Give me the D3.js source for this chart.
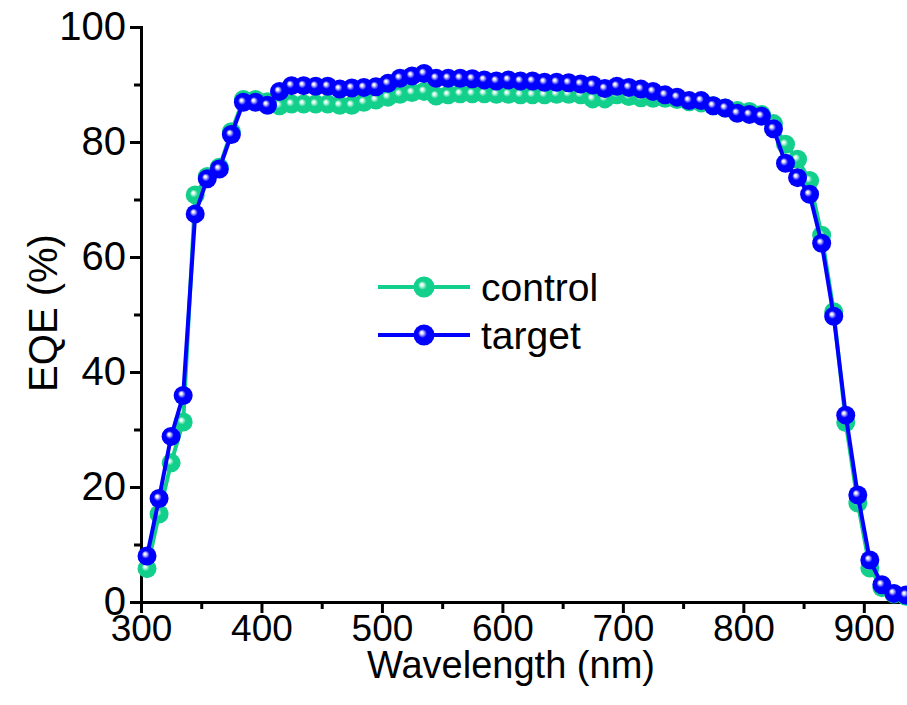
<!DOCTYPE html>
<html>
<head>
  <meta charset="utf-8">
  <style>
    body { margin: 0; background: #fff; }
    svg { display: block; }
    text { font-family: "Liberation Sans", Arial, sans-serif; }
  </style>
</head>
<body>
<script src="https://d3js.org/d3.v7.min.js"></script>
<script>

// wavelengths (nm), one point every 10 nm
var wavelengths = [305, 315, 325, 335, 345, 355, 365, 375, 385, 395,
                   405, 415, 425, 435, 445, 455, 465, 475, 485, 495,
                   505, 515, 525, 535, 545, 555, 565, 575, 585, 595,
                   605, 615, 625, 635, 645, 655, 665, 675, 685, 695,
                   705, 715, 725, 735, 745, 755, 765, 775, 785, 795,
                   805, 815, 825, 835, 845, 855, 865, 875, 885, 895,
                   905, 915, 925, 935];

var controlEQE = [5.8, 15.3, 24.2, 31.3, 70.8, 74.0, 75.6, 81.8, 87.4, 87.4,
                  87.0, 86.3, 86.6, 86.6, 86.6, 86.6, 86.4, 86.4, 86.9, 87.3,
                  87.8, 88.3, 88.6, 88.8, 88.0, 88.2, 88.4, 88.4, 88.4, 88.3,
                  88.3, 88.2, 88.2, 88.2, 88.3, 88.3, 88.2, 87.5, 87.5, 88.2,
                  87.9, 87.7, 87.6, 87.6, 87.4, 87.0, 86.8, 86.3, 85.9, 85.5,
                  85.3, 84.8, 83.2, 79.6, 77.0, 73.3, 63.8, 50.5, 31.2, 17.2,
                  5.9, 2.5, 1.4, 1.0];

var targetEQE = [8.0, 18.0, 28.8, 35.9, 67.5, 73.6, 75.3, 81.3, 86.9, 86.9,
                 86.4, 88.8, 89.8, 89.8, 89.7, 89.7, 89.2, 89.4, 89.5, 89.6,
                 90.2, 91.1, 91.5, 91.9, 91.1, 91.1, 91.1, 91.0, 90.8, 90.6,
                 90.8, 90.6, 90.6, 90.4, 90.4, 90.3, 90.1, 89.9, 89.3, 89.7,
                 89.5, 89.2, 88.8, 88.2, 87.8, 87.2, 87.2, 86.3, 85.9, 85.0,
                 84.8, 84.5, 82.3, 76.3, 73.8, 70.9, 62.4, 49.7, 32.5, 18.6,
                 7.3, 3.0, 1.5, 1.2];

var xTicks = [300, 400, 500, 600, 700, 800, 900];
var yTicks = [0, 20, 40, 60, 80, 100];

var series = [
  {name: "control", values: controlEQE, color: "#12cf8b", light: "#e6fff4"},
  {name: "target",  values: targetEQE,  color: "#0000ff", light: "#eeeeff"}
];

var width = 907, height = 705;

var svg = d3.select("body").append("svg")
            .attr("width", width)
            .attr("height", height);

var x = d3.scaleLinear().domain([300, 940]).range([141, 912]);
var y = d3.scaleLinear().domain([0, 100]).range([602, 27]);

// shiny ball gradients
var defs = svg.append("defs");
series.forEach(function(s, i) {
  var g = defs.append("radialGradient")
              .attr("id", "ball" + i)
              .attr("cx", "0.5").attr("cy", "0.5").attr("r", "0.5")
              .attr("fx", "0.38").attr("fy", "0.38");
  g.append("stop").attr("offset", "0%").attr("stop-color", "#ffffff");
  g.append("stop").attr("offset", "12%").attr("stop-color", s.light);
  g.append("stop").attr("offset", "42%").attr("stop-color", s.color);
  g.append("stop").attr("offset", "100%").attr("stop-color", s.color);
});

// axes
var xAxis = d3.axisBottom(x).tickValues(xTicks).tickSize(11).tickPadding(2).tickFormat(d3.format("d"));
var yAxis = d3.axisLeft(y).tickValues(yTicks).tickSize(11).tickPadding(4);

var xMinor = d3.axisBottom(x).tickValues(d3.range(350, 950, 100)).tickSize(7).tickFormat("");
var yMinor = d3.axisLeft(y).tickValues(d3.range(10, 100, 20)).tickSize(7).tickFormat("");

var gx = svg.append("g").attr("transform", "translate(0," + y(0) + ")").call(xAxis);
svg.append("g").attr("transform", "translate(0," + y(0) + ")").call(xMinor);
var gy = svg.append("g").attr("transform", "translate(" + x(300) + ",0)").call(yAxis);
svg.append("g").attr("transform", "translate(" + x(300) + ",0)").call(yMinor);

svg.selectAll(".domain").attr("stroke", "#000").attr("stroke-width", 3);
svg.selectAll(".tick line").attr("stroke", "#000").attr("stroke-width", 3);
svg.selectAll(".tick text").attr("fill", "#000")
   .style("font-family", "Liberation Sans, Arial, sans-serif");
gy.selectAll(".tick text").style("font-size", "40px");
gx.selectAll(".tick text").style("font-size", "37px");

// axis titles
svg.append("text")
   .attr("x", 511).attr("y", 678)
   .attr("text-anchor", "middle")
   .style("font-size", "38px")
   .text("Wavelength (nm)");

svg.append("text")
   .attr("transform", "translate(57,313) rotate(-90)")
   .attr("text-anchor", "middle")
   .style("font-size", "40px")
   .text("EQE (%)");

// data
var line = d3.line()
             .x(function(d) { return x(d[0]); })
             .y(function(d) { return y(d[1]); });

series.forEach(function(s, i) {
  var pts = wavelengths.map(function(w, j) { return [w, s.values[j]]; });
  svg.append("path")
     .attr("d", line(pts))
     .attr("fill", "none")
     .attr("stroke", s.color)
     .attr("stroke-width", 4);
  svg.append("g").selectAll("circle")
     .data(pts)
     .enter().append("circle")
     .attr("cx", function(d) { return x(d[0]); })
     .attr("cy", function(d) { return y(d[1]); })
     .attr("r", 9.5)
     .attr("fill", "url(#ball" + i + ")");
});

// legend
var legend = svg.append("g");
series.forEach(function(s, i) {
  var ly = 287 + i * 48;
  legend.append("line")
        .attr("x1", 378).attr("x2", 470)
        .attr("y1", ly).attr("y2", ly)
        .attr("stroke", s.color).attr("stroke-width", 4);
  legend.append("circle")
        .attr("cx", 424).attr("cy", ly).attr("r", 10.5)
        .attr("fill", "url(#ball" + i + ")");
  legend.append("text")
        .attr("x", 481).attr("y", ly + 14)
        .style("font-size", "39px")
        .text(s.name);
});

</script>
</body>
</html>
